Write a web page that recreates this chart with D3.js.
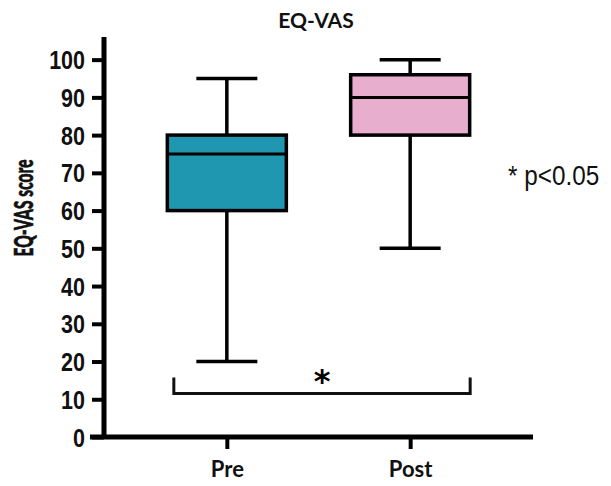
<!DOCTYPE html>
<html>
<head>
<meta charset="utf-8">
<script src="https://cdn.jsdelivr.net/npm/d3@7"></script>
<style>
  body { margin: 0; background: #fff; }
  svg { display: block; }
</style>
</head>
<body>
<div id="chart-container"></div>
<script>
// data
const groups = ["Pre", "Post"];
const mins = [20, 50];
const q1s = [60, 80];
const medians = [75, 90];
const q3s = [80, 96];
const maxs = [95, 100];
const colors = ["#2097b0", "#e7aecd"];
const yTicks = [0, 10, 20, 30, 40, 50, 60, 70, 80, 90, 100];
const sigPair = ["Pre", "Post"];
const sigLevel = 11.5;

const width = 611;
const height = 486;
const squeeze = 0.86; // glyphs in the source look horizontally narrowed

const svg = d3.select("#chart-container")
  .append("svg")
  .attr("width", width)
  .attr("height", height);

const x = d3.scalePoint()
  .domain(groups)
  .range([104, 533])
  .padding(0.67);

const y = d3.scaleLinear()
  .domain([0, 106])
  .range([437, 37]);

const boxW = 119;
const capW = 61;

// whiskers + boxes
groups.forEach((g, i) => {
  const cx = x(g);
  svg.append("line")
    .attr("x1", cx).attr("x2", cx)
    .attr("y1", y(mins[i])).attr("y2", y(maxs[i]))
    .attr("stroke", "#000").attr("stroke-width", 3.5);
  [mins[i], maxs[i]].forEach(v => {
    svg.append("line")
      .attr("x1", cx - capW / 2).attr("x2", cx + capW / 2)
      .attr("y1", y(v)).attr("y2", y(v))
      .attr("stroke", "#000").attr("stroke-width", 3.5);
  });
  svg.append("rect")
    .attr("x", cx - boxW / 2)
    .attr("y", y(q3s[i]))
    .attr("width", boxW)
    .attr("height", y(q1s[i]) - y(q3s[i]))
    .attr("fill", colors[i])
    .attr("stroke", "#000")
    .attr("stroke-width", 3.5);
  svg.append("line")
    .attr("x1", cx - boxW / 2).attr("x2", cx + boxW / 2)
    .attr("y1", y(medians[i])).attr("y2", y(medians[i]))
    .attr("stroke", "#000").attr("stroke-width", 3);
});

// y axis
const yAxis = svg.append("g")
  .attr("transform", "translate(104,0)")
  .call(d3.axisLeft(y).tickValues(yTicks).tickSize(12).tickPadding(7));
yAxis.select(".domain").remove();
yAxis.selectAll(".tick line").attr("stroke", "#000").attr("stroke-width", 4);
yAxis.selectAll(".tick text")
  .attr("fill", "#111")
  .attr("dy", "0.36em")
  .attr("transform", `translate(-19,0) scale(${squeeze},1) translate(19,0)`)
  .style("font-family", "'Liberation Sans', Arial, sans-serif")
  .style("font-weight", "bold")
  .style("font-size", "25px");
svg.append("line")
  .attr("x1", 104).attr("x2", 104)
  .attr("y1", y(106)).attr("y2", y(0) + 2)
  .attr("stroke", "#000").attr("stroke-width", 5);

// x axis
const xAxis = svg.append("g")
  .attr("transform", "translate(0,437)")
  .call(d3.axisBottom(x).tickSize(12).tickPadding(12));
xAxis.select(".domain").remove();
xAxis.selectAll(".tick line").attr("stroke", "#000").attr("stroke-width", 4);
xAxis.selectAll(".tick text")
  .attr("fill", "#111")
  .style("font-family", "Lato, 'Open Sans', sans-serif")
  .style("font-weight", "bold")
  .style("font-size", "22px");
svg.append("line")
  .attr("x1", 90).attr("x2", 533)
  .attr("y1", 437).attr("y2", 437)
  .attr("stroke", "#000").attr("stroke-width", 5);

// significance bracket
const bx1 = x(sigPair[0]) - 53, bx2 = x(sigPair[1]) + 60;
svg.append("path")
  .attr("d", `M${bx1},${y(sigLevel + 4.3)}V${y(sigLevel)}H${bx2}V${y(sigLevel + 4.3)}`)
  .attr("fill", "none")
  .attr("stroke", "#111")
  .attr("stroke-width", 3);
svg.append("text")
  .attr("x", (bx1 + bx2) / 2)
  .attr("y", y(sigLevel) - 2)
  .attr("text-anchor", "middle")
  .style("font-family", "'DejaVu Sans', sans-serif")
  .style("font-weight", "bold")
  .style("font-size", "32px")
  .text("*");

// title
svg.append("text")
  .attr("x", 316)
  .attr("y", 28)
  .attr("text-anchor", "middle")
  .style("font-family", "Lato, 'Open Sans', sans-serif")
  .style("font-weight", "bold")
  .style("font-size", "21px")
  .attr("fill", "#111")
  .text("EQ-VAS");

// y label, squeezed along its length to fit ~97px
const yLab = svg.append("text")
  .attr("text-anchor", "middle")
  .style("font-family", "Lato, 'Open Sans', sans-serif")
  .style("font-weight", "900")
  .style("font-size", "26px")
  .attr("fill", "#111")
  .attr("stroke", "#111")
  .attr("stroke-width", 0.6)
  .text("EQ-VAS score");
const labLen = yLab.node().getComputedTextLength();
yLab.attr("transform", `translate(33,208) rotate(-90) scale(${Math.min(1, 97 / labLen)},1)`);

// note
svg.append("text")
  .attr("x", 508)
  .attr("y", 185)
  .attr("transform", `translate(508,0) scale(${squeeze + 0.04},1) translate(-508,0)`)
  .style("font-family", "'Liberation Sans', Arial, sans-serif")
  .style("font-size", "27px")
  .attr("fill", "#111")
  .text("* p<0.05");
</script>
</body>
</html>
